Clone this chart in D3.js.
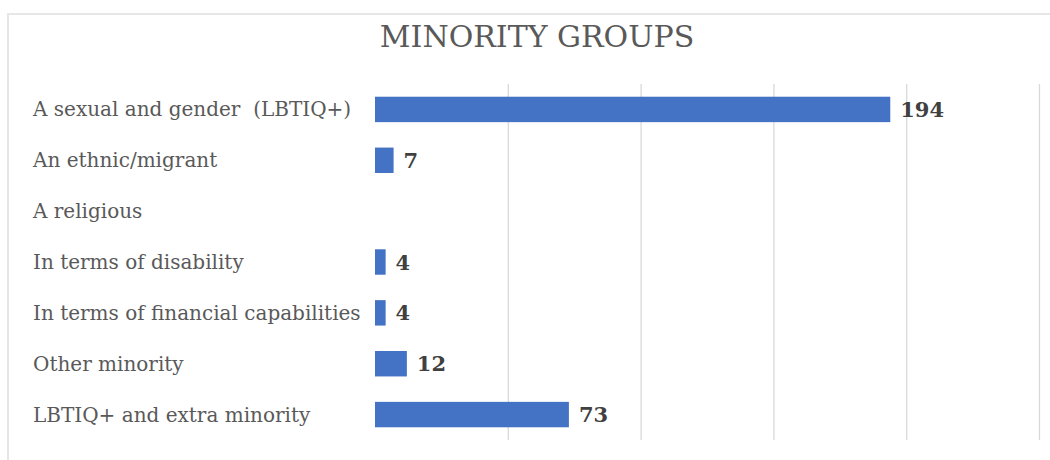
<!DOCTYPE html>
<html lang="en">
<head>
  <meta charset="UTF-8">
  <title>Minority groups</title>
  <script src="https://d3js.org/d3.v7.min.js"></script>
  <style>
    body { margin: 0; background: #fff; }
    text { font-family: "DejaVu Serif", serif; white-space: pre; }
  </style>
</head>
<body>
  <svg id="chart" width="1050" height="460"></svg>
  <script>
    let categories = [
      'A sexual and gender  (LBTIQ+)',
      'An ethnic/migrant',
      'A religious',
      'In terms of disability',
      'In terms of financial capabilities',
      'Other minority',
      'LBTIQ+ and extra minority'
    ];
    let values = [194, 7, 0, 4, 4, 12, 73];
    let gridTicks = [50, 100, 150, 200, 250];

    let svg = d3.select('#chart');

    // chart frame (the border runs off the right and bottom edges)
    svg.append('rect')
      .attr('x', 8).attr('y', 14)
      .attr('width', 1060).attr('height', 470)
      .attr('fill', 'none')
      .attr('stroke', '#e6e6e6')
      .attr('stroke-width', 2);

    svg.append('text')
      .attr('x', 537).attr('y', 47)
      .attr('text-anchor', 'middle')
      .attr('font-size', 30)
      .attr('fill', '#595959')
      .text('MINORITY GROUPS');

    let x = d3.scaleLinear().domain([0, 250]).range([375, 1039]);
    let y = d3.scaleBand().domain(categories).range([84, 440])
      .paddingInner(0.5).paddingOuter(0.25);

    // vertical gridlines
    svg.append('g')
      .attr('transform', 'translate(0, 440)')
      .call(d3.axisBottom(x).tickValues(gridTicks).tickSize(-356).tickFormat(''))
      .call(g => g.select('.domain').remove())
      .call(g => g.selectAll('line').attr('stroke', '#d9d9d9').attr('stroke-width', 1.3));

    // category labels
    svg.append('g')
      .selectAll('text')
      .data(categories)
      .join('text')
      .attr('x', 33)
      .attr('y', function (d) { return y(d) + y.bandwidth() / 2; })
      .attr('dy', '0.35em')
      .attr('font-size', 20)
      .attr('fill', '#595959')
      .text(function (d) { return d; });

    let rows = categories.map(function (c, i) { return { name: c, value: values[i] }; });

    svg.append('g')
      .selectAll('rect')
      .data(rows.filter(function (d) { return d.value > 0; }))
      .join('rect')
      .attr('x', x(0))
      .attr('y', function (d) { return y(d.name); })
      .attr('width', function (d) { return x(d.value) - x(0); })
      .attr('height', y.bandwidth())
      .attr('fill', '#4472c4');

    svg.append('g')
      .selectAll('text')
      .data(rows.filter(function (d) { return d.value > 0; }))
      .join('text')
      .attr('x', function (d) { return x(d.value) + 10; })
      .attr('y', function (d) { return y(d.name) + y.bandwidth() / 2; })
      .attr('dy', '0.36em')
      .attr('font-size', 21)
      .attr('font-weight', 'bold')
      .attr('fill', '#404040')
      .text(function (d) { return d.value; });
  </script>
</body>
</html>
